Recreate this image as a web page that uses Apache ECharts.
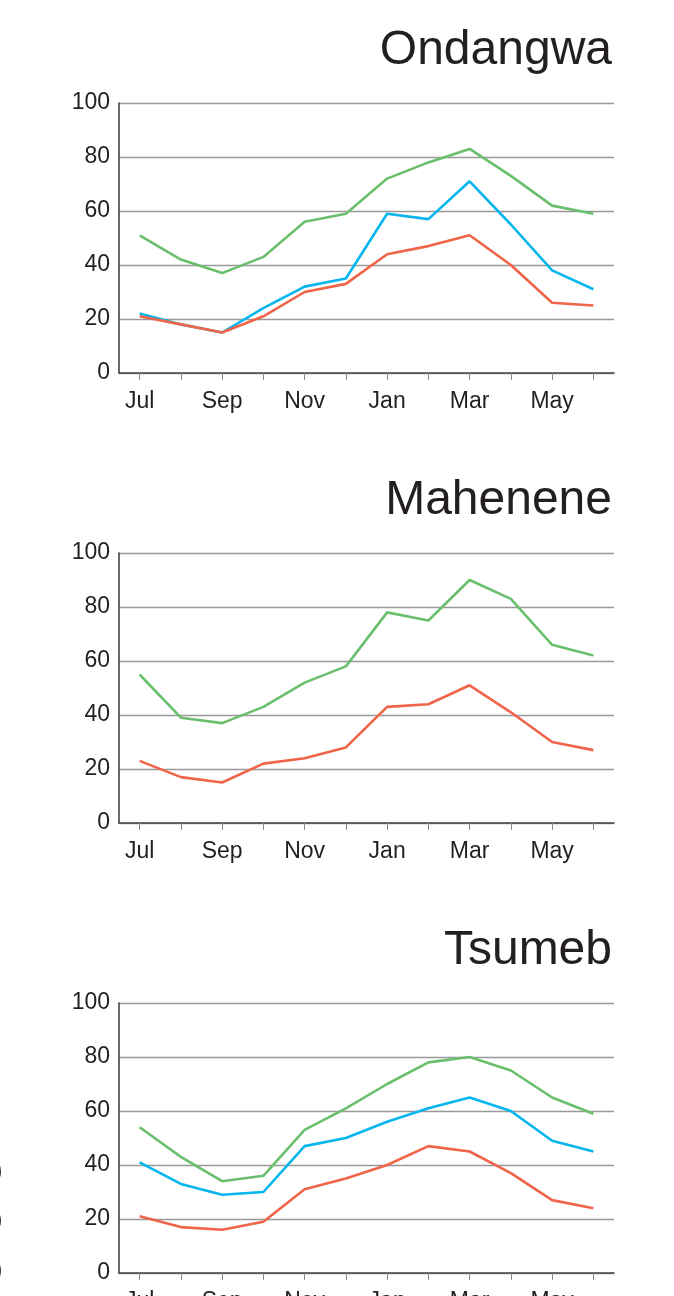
<!DOCTYPE html>
<html>
<head>
<meta charset="utf-8">
<script src="https://cdn.jsdelivr.net/npm/echarts@6/dist/echarts.min.js"></script>
<style>
html,body{margin:0;padding:0;background:#fff;}
#c{width:674px;height:1296px;}
</style>
</head>
<body>
<div id="c"></div>
<script>
const months = ['Jul','Aug','Sep','Oct','Nov','Dec','Jan','Feb','Mar','Apr','May','Jun'];
const yTicks = [0, 20, 40, 60, 80, 100];
const stations = ['Ondangwa', 'Mahenene', 'Tsumeb'];

const ondangwaGreen = [51, 42, 37, 43, 56, 59, 72, 78, 83, 73, 62, 59];
const ondangwaBlue  = [22, 18, 15, 24, 32, 35, 59, 57, 71, 55, 38, 31];
const ondangwaRed   = [21, 18, 15, 21, 30, 33, 44, 47, 51, 40, 26, 25];

const maheneneGreen = [55, 39, 37, 43, 52, 58, 78, 75, 90, 83, 66, 62];
const maheneneRed   = [23, 17, 15, 22, 24, 28, 43, 44, 51, 41, 30, 27];

const tsumebGreen = [54, 43, 34, 36, 53, 61, 70, 78, 80, 75, 65, 59];
const tsumebBlue  = [41, 33, 29, 30, 47, 50, 56, 61, 65, 60, 49, 45];
const tsumebRed   = [21, 17, 16, 19, 31, 35, 40, 47, 45, 37, 27, 24];

const edgeGlyphs = ['0', '0', '0'];

const GREEN = '#6abf6c', BLUE = '#05b5ee', RED = '#f0654a';
const panels = [
  {name: stations[0], series: [[ondangwaGreen, GREEN], [ondangwaBlue, BLUE], [ondangwaRed, RED]]},
  {name: stations[1], series: [[maheneneGreen, GREEN], [maheneneRed, RED]]},
  {name: stations[2], series: [[tsumebGreen, GREEN], [tsumebBlue, BLUE], [tsumebRed, RED]]}
];

const labelFont = '"Liberation Sans", Arial, sans-serif';
const PANEL_STEP = 450;
const grids = [], xAxes = [], yAxes = [], series = [], titles = [];
panels.forEach((p, i) => {
  const top = 103 + i * PANEL_STEP;
  grids.push({left: 119, right: 60, top: top, height: 270, containLabel: false, outerBoundsMode: 'none'});
  titles.push({
    text: p.name, right: 57, top: top - 81,
    textStyle: {fontFamily: '"Liberation Sans", Arial, sans-serif', fontSize: 48, fontWeight: 'normal', color: '#231f20'}
  });
  xAxes.push({
    type: 'category', gridIndex: i, data: months, boundaryGap: true,
    axisLine: {show: true, lineStyle: {color: '#444444', width: 1.6}},
    axisTick: {show: true, alignWithLabel: true, interval: 0, length: 7, lineStyle: {color: '#8a8a8a', width: 1}},
    axisLabel: {interval: 1, margin: 17, fontFamily: labelFont, fontSize: 23, color: '#231f20'},
    splitLine: {show: false}
  });
  yAxes.push({
    type: 'value', gridIndex: i, min: yTicks[0], max: yTicks[yTicks.length - 1], interval: yTicks[1] - yTicks[0],
    axisLine: {show: true, lineStyle: {color: '#444444', width: 1.6}},
    axisTick: {show: false},
    axisLabel: {margin: 9, fontFamily: labelFont, fontSize: 23, color: '#231f20'},
    splitLine: {show: true, lineStyle: {color: '#999999', width: 1.3}}
  });
  p.series.forEach(([data, color]) => {
    series.push({
      type: 'line', xAxisIndex: i, yAxisIndex: i, data: data,
      showSymbol: false, symbol: 'none', smooth: false, z: 3,
      lineStyle: {color: color, width: 2.6}, itemStyle: {color: color}
    });
  });
});

const edgeTops = [1159, 1208, 1258];
const graphics = edgeGlyphs.map((g, k) => ({
  type: 'text', right: 672, top: edgeTops[k],
  style: {text: g, font: '28px "Liberation Sans", sans-serif', fill: '#231f20'}
}));

const chart = echarts.init(document.getElementById('c'), null, {renderer: 'canvas'});
chart.setOption({
  backgroundColor: '#ffffff',
  animation: false,
  title: titles,
  grid: grids,
  xAxis: xAxes,
  yAxis: yAxes,
  series: series,
  graphic: graphics
});
</script>
</body>
</html>
